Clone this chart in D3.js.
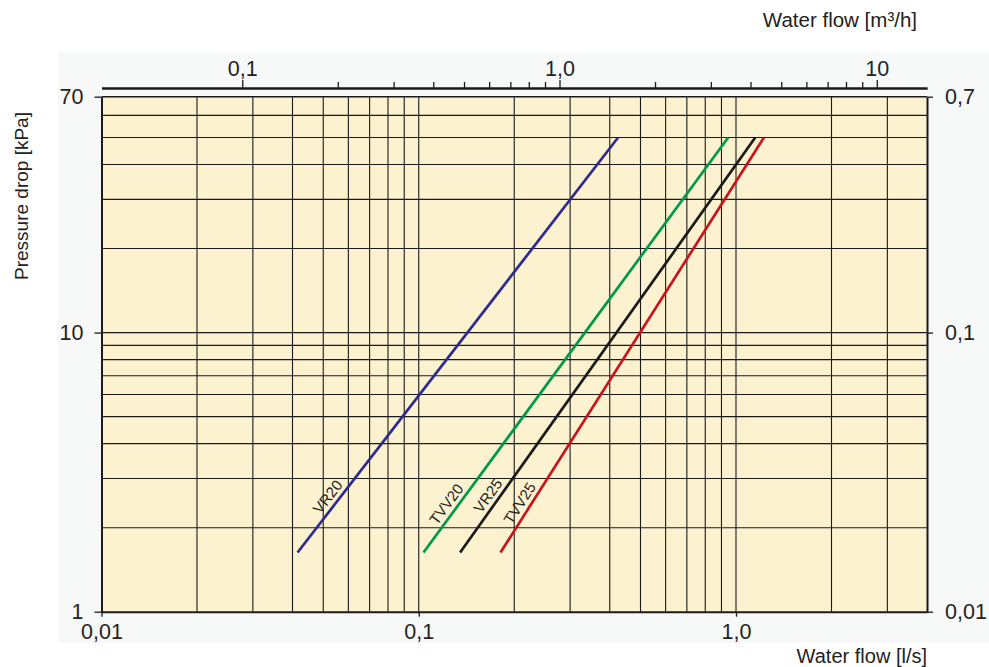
<!DOCTYPE html>
<html>
<head>
<meta charset="utf-8">
<script src="https://cdn.jsdelivr.net/npm/d3@7"></script>
<style>
    body { margin: 0; background: #ffffff; }
    svg { display: block; font-family: "Liberation Sans", Arial, Helvetica, sans-serif; }
</style>
</head>
<body>
<div id="chart"></div>
<script>
// series: [flow l/s, pressure drop kPa] at both ends of each line
var seriesNames = ["VR20", "TVV20", "VR25", "TVV25"];
var seriesColors = ["#2c2a8e", "#00994a", "#1a1a1a", "#c8141c"];
var vr20 = [[0.0415, 1.63], [0.425, 50]];
var tvv20 = [[0.1035, 1.63], [0.945, 50]];
var vr25 = [[0.135, 1.63], [1.15, 50]];
var tvv25 = [[0.181, 1.63], [1.225, 50]];
var seriesData = [vr20, tvv20, vr25, tvv25];
var labelAt = [2.45, 2.31, 2.48, 2.34]; // kPa where the label sits

var flowDomain = [0.01, 4];
var dpDomain = [1, 70];
var bottomTicks = [0.01, 0.1, 1];
var bottomLabels = ["0,01", "0,1", "1,0"];
var leftTicks = [1, 10, 70];
var leftLabels = ["1", "10", "70"];
var rightLabels = ["0,01", "0,1", "0,7"];
var topTicks = [0.1, 1, 10];
var topLabels = ["0,1", "1,0", "10"];

var w = 989, h = 667;
var svg = d3.select("#chart").append("svg").attr("width", w).attr("height", h);

var x = d3.scaleLog().domain(flowDomain).range([101.5, 927]);
var xTop = d3.scaleLog().domain([flowDomain[0] * 3.6, flowDomain[1] * 3.6]).range([101.5, 927]);
var y = d3.scaleLog().domain(dpDomain).range([611.7, 96.7]);

// faint panel behind the chart
svg.append("rect").attr("x", 58).attr("y", 52).attr("width", w - 58).attr("height", 591).attr("fill", "#f7f9f9");

svg.append("rect")
    .attr("x", x.range()[0]).attr("y", y.range()[1])
    .attr("width", x.range()[1] - x.range()[0])
    .attr("height", y.range()[0] - y.range()[1])
    .attr("fill", "#fcf2cf");

// grid
var grid = svg.append("g").attr("stroke", "#1a1a1a").attr("stroke-width", 1.1);
grid.selectAll("line.vx").data(x.ticks().filter(function (d) { return d > flowDomain[0] && d < flowDomain[1]; }))
    .enter().append("line")
    .attr("x1", function (d) { return x(d); }).attr("x2", function (d) { return x(d); })
    .attr("y1", y.range()[0]).attr("y2", y.range()[1]);
grid.selectAll("line.hy").data(y.ticks().filter(function (d) { return d > dpDomain[0]; }))
    .enter().append("line")
    .attr("x1", x.range()[0]).attr("x2", x.range()[1])
    .attr("y1", function (d) { return y(d); }).attr("y2", function (d) { return y(d); })
    .attr("stroke-width", function (d) { return d === 70 ? 1.6 : 1.1; });

// axes
function styleAxis(g) {
    g.selectAll(".domain").attr("stroke", "#1a1a1a").attr("stroke-width", 2);
    g.selectAll(".tick line").attr("stroke", "#1a1a1a").attr("stroke-width", 1.3);
    g.selectAll(".tick text").attr("fill", "#222").style("font-size", "21.5px");
}

svg.append("g").attr("transform", "translate(0," + y.range()[0] + ")")
    .call(d3.axisBottom(x).tickValues(bottomTicks).tickSize(5).tickSizeOuter(0).tickPadding(7.5)
        .tickFormat(function (d, i) { return bottomLabels[i]; }))
    .call(styleAxis);

svg.append("g").attr("transform", "translate(" + x.range()[0] + ",0)")
    .call(d3.axisLeft(y).tickValues(leftTicks).tickSize(7).tickSizeOuter(0).tickPadding(11)
        .tickFormat(function (d, i) { return leftLabels[i]; }))
    .call(styleAxis);

svg.append("g").attr("transform", "translate(" + x.range()[1] + ",0)")
    .call(d3.axisRight(y).tickValues(leftTicks).tickSize(6).tickSizeOuter(0).tickPadding(12)
        .tickFormat(function (d, i) { return rightLabels[i]; }))
    .call(styleAxis);

// top axis in m3/h
var topMinor = xTop.ticks().filter(function (d) { return d > 0.1 && topTicks.indexOf(d) < 0; });
svg.append("g").attr("transform", "translate(0,88)")
    .call(d3.axisTop(xTop).tickValues(topMinor).tickSize(6).tickSizeOuter(0).tickFormat(""))
    .call(styleAxis);
svg.append("g").attr("transform", "translate(0,88)")
    .call(d3.axisTop(xTop).tickValues(topTicks).tickSize(8).tickSizeOuter(0).tickPadding(4)
        .tickFormat(function (d, i) { return topLabels[i]; }))
    .call(styleAxis);

// series lines
var line = d3.line().x(function (d) { return x(d[0]); }).y(function (d) { return y(d[1]); });
svg.selectAll("path.series").data(seriesData).enter().append("path")
    .attr("class", "series")
    .attr("d", line)
    .attr("fill", "none")
    .attr("stroke", function (d, i) { return seriesColors[i]; })
    .attr("stroke-width", 2.7);

// labels along the lines
svg.selectAll("text.lbl").data(seriesData).enter().append("text")
    .attr("class", "lbl")
    .attr("transform", function (d, i) {
        var p0 = d[0], p1 = d[1];
        var t = (Math.log(labelAt[i]) - Math.log(p0[1])) / (Math.log(p1[1]) - Math.log(p0[1]));
        var f = Math.exp(Math.log(p0[0]) + t * (Math.log(p1[0]) - Math.log(p0[0])));
        var ang = Math.atan2(y(p1[1]) - y(p0[1]), x(p1[0]) - x(p0[0])) * 180 / Math.PI;
        return "translate(" + x(f) + "," + y(labelAt[i]) + ") rotate(" + ang + ")";
    })
    .attr("dy", -5)
    .attr("text-anchor", "middle")
    .attr("fill", "#222")
    .style("font-size", "15px")
    .text(function (d, i) { return seriesNames[i]; });

// titles
svg.append("text").attr("x", 917).attr("y", 27).attr("text-anchor", "end")
    .attr("fill", "#222").style("font-size", "20.5px").text("Water flow [m³/h]");
svg.append("text").attr("x", 927).attr("y", 663).attr("text-anchor", "end")
    .attr("fill", "#222").style("font-size", "20px").text("Water flow [l/s]");
svg.append("text").attr("transform", "translate(28,196) rotate(-90)").attr("text-anchor", "middle")
    .attr("fill", "#222").style("font-size", "19px").text("Pressure drop [kPa]");
</script>
</body>
</html>
